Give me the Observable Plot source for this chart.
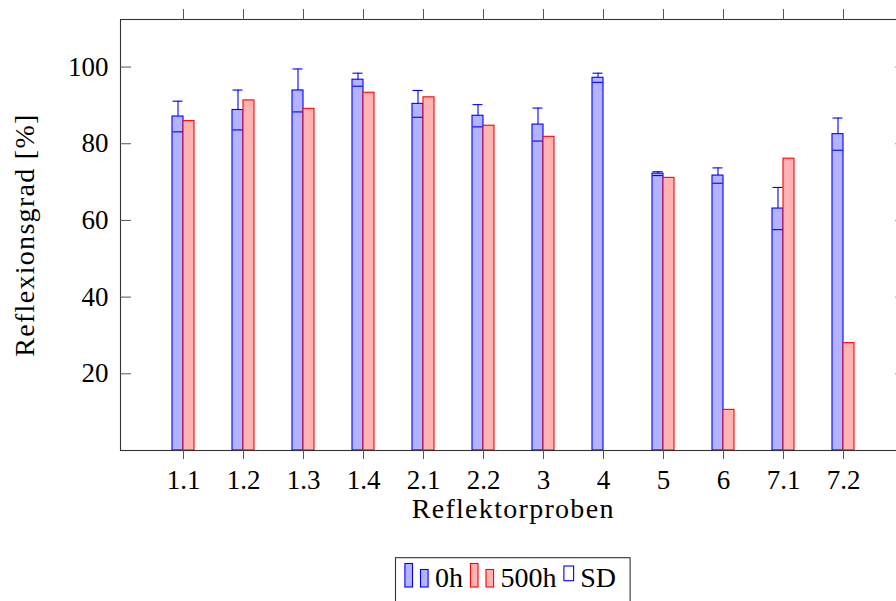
<!DOCTYPE html>
<html><head><meta charset="utf-8">
<script src="https://cdn.jsdelivr.net/npm/d3@7"></script>
<script src="https://cdn.jsdelivr.net/npm/@observablehq/plot@0.6"></script>
<style>
html,body{margin:0;padding:0;background:#fff;overflow:hidden;}
#chart svg{display:block;}
</style></head><body><div id="chart"></div>
<script>
// ---- data ----
const categories = ["1.1","1.2","1.3","1.4","2.1","2.2","3","4","5","6","7.1","7.2"];
const values0h   = [87.1, 88.8, 93.9, 96.7, 90.4, 87.3, 85.0, 97.2, 72.2, 71.7, 63.1, 82.5];
const sd0h       = [4.0, 5.2, 5.6, 1.7, 3.5, 2.9, 4.3, 1.2, 0.5, 2.0, 5.5, 4.2];
const values500h = [85.9, 91.3, 89.1, 93.3, 92.1, 84.7, 81.8, null, 71.1, 10.6, 76.1, 28.0];
const yTicks = [20, 40, 60, 80, 100];
const seriesNames = ["0h", "500h", "SD"];
const xLabel = "Reflektorproben";
const yLabel = "Reflexionsgrad [%]";

const rows = categories.map((c, i) => ({cat: c, h0: values0h[i], sd: sd0h[i], h500: values500h[i]}));
const BLUE = "#0000ff", BLUE_FILL = "#b3b3ff", RED = "#ff0000", RED_FILL = "#ffb3b3";
const font = "'Liberation Serif', 'Times New Roman', serif";
const AX = "#555";

const plot = Plot.plot({
  width: 896, height: 540,
  marginLeft: 120, marginRight: -9.4, marginTop: 19, marginBottom: 90,
  style: {fontFamily: font, fontSize: "27px", background: "white", color: "#000"},
  x: {type: "band", domain: categories, paddingInner: 0.636, paddingOuter: 0.818, align: 0.5},
  y: {domain: [0, 112.4]},
  marks: [
    Plot.barY(rows, {x: "cat", y: "h0", insetRight: 11, fill: BLUE_FILL, stroke: BLUE, strokeWidth: 1.1}),
    Plot.barY(rows.filter(d => d.h500 != null), {x: "cat", y: "h500", insetLeft: 11, fill: RED_FILL, stroke: RED, strokeWidth: 1.1}),
    Plot.ruleX(rows, {x: "cat", y1: "h0", y2: d => d.h0 + d.sd, dx: -5.5, stroke: BLUE, strokeWidth: 1.1}),
    Plot.tickY(rows, {x: "cat", y: d => d.h0 + d.sd, insetRight: 11.5, insetLeft: 0.5, stroke: BLUE, strokeWidth: 1.1}),
    Plot.tickY(rows, {x: "cat", y: d => d.h0 - d.sd, insetRight: 11.5, insetLeft: 0.5, stroke: BLUE, strokeWidth: 1.1}),
    Plot.frame({stroke: "#333", strokeWidth: 1.1}),
    Plot.axisX({anchor: "bottom", tickSize: 9, tickFormat: () => "", label: null, stroke: AX}),
    Plot.axisX({anchor: "bottom", tickSize: 0, tickPadding: 19, label: null, fill: "#000"}),
    Plot.axisX({anchor: "top", tickSize: 11, tickFormat: () => "", label: null, stroke: AX}),
    Plot.axisY({anchor: "left", ticks: yTicks, tickSize: 0, tickPadding: 12, label: null, fill: "#000"}),
    Plot.axisY({anchor: "left", ticks: yTicks, tickSize: -11, tickFormat: () => "", label: null, stroke: AX}),
    Plot.axisY({anchor: "right", ticks: yTicks, tickSize: -11, tickFormat: () => "", label: null, stroke: AX}),
    Plot.text([xLabel], {text: d => d, frameAnchor: "bottom", dy: 48, lineAnchor: "top", textAnchor: "middle", fontSize: 28, fill: "#000"}),
    Plot.text([yLabel], {text: d => d, frameAnchor: "left", rotate: -90, dx: -95, textAnchor: "middle", lineAnchor: "middle", fontSize: 28, fill: "#000"})
  ]
});
const chart = document.getElementById("chart");
chart.appendChild(plot);
d3.select(plot).selectAll("text").filter(function() {
  const t = this.textContent; return t === xLabel || t === yLabel;
}).style("letter-spacing", "1.3px");

// ---- legend ----
const legend = d3.select(chart).append("svg")
  .attr("width", 896).attr("height", 61)
  .style("display", "block")
  .style("font-family", font).style("font-size", "28px");
const items = [
  {name: seriesNames[0], kind: "bar", fill: BLUE_FILL, stroke: BLUE},
  {name: seriesNames[1], kind: "bar", fill: RED_FILL, stroke: RED},
  {name: seriesNames[2], kind: "box", fill: "white", stroke: BLUE}
];
const g = legend.append("g");
const box = g.append("rect");
let cx = 0;
const baseline = 47;
items.forEach(it => {
  if (it.kind === "bar") {
    g.append("rect").attr("x", cx).attr("y", 23.5).attr("width", 7.6).attr("height", 23.5)
      .attr("fill", it.fill).attr("stroke", it.stroke).attr("stroke-width", 1.1);
    g.append("rect").attr("x", cx + 15.6).attr("y", 29.5).attr("width", 7.6).attr("height", 17.5)
      .attr("fill", it.fill).attr("stroke", it.stroke).attr("stroke-width", 1.1);
    cx += 23.3;
  } else {
    g.append("rect").attr("x", cx).attr("y", 26).attr("width", 9.7).attr("height", 14.7)
      .attr("fill", it.fill).attr("stroke", it.stroke).attr("stroke-width", 1.1);
    cx += 9.7;
  }
  cx += 6.7;
  const t = g.append("text").attr("x", cx).attr("y", baseline).attr("fill", "#000").text(it.name);
  cx += t.node().getComputedTextLength() + 7.5;
});
const left = -9.4, right = cx - 7.5 + 14;
box.attr("x", left).attr("y", 17.7).attr("width", right - left).attr("height", 60)
  .attr("fill", "white").attr("stroke", "#333").attr("stroke-width", 1.1);
const center = 512.8;
g.attr("transform", `translate(${center - (left + right) / 2},0)`);
</script></body></html>
